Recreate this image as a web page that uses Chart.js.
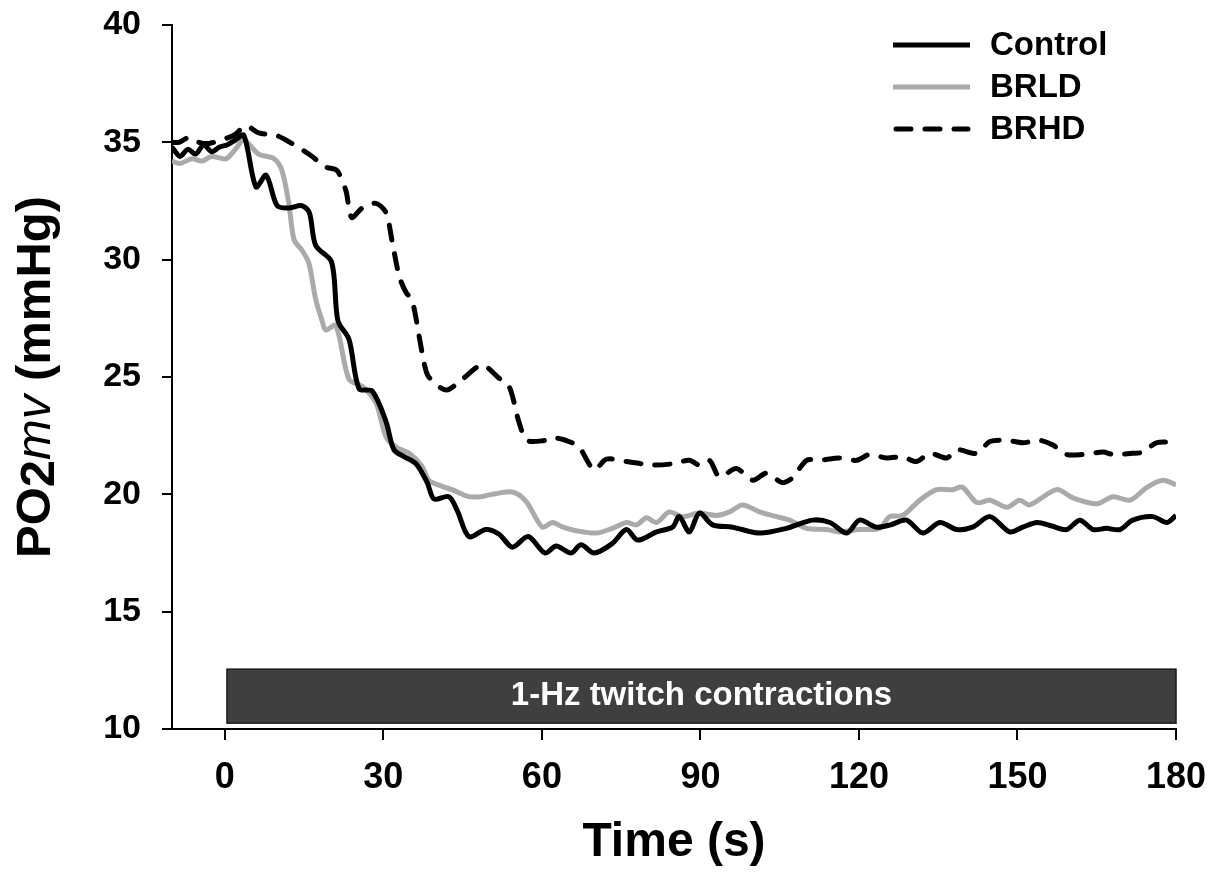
<!DOCTYPE html>
<html>
<head>
<meta charset="utf-8">
<script src="https://cdn.jsdelivr.net/npm/chart.js@4.4.1/dist/chart.umd.min.js"></script>
<style>
  html, body { margin: 0; padding: 0; background: #fff; }
  canvas { display: block; }
</style>
</head>
<body>
<canvas id="myChart" width="1224" height="886"></canvas>
<script>
// time (s) and PO2mv (mmHg)
const controlTime = [-10, -8.5, -7, -5.5, -4, -2.5, -1, 0.5, 2, 3.6, 5.9, 7.8, 9.9, 12, 14.6, 16, 17.2, 20.2, 21.4, 23.5, 25.4, 27.9, 30.5, 32, 34, 36.2, 38.3, 39.6, 42.4, 44, 46.2, 49.4, 51.9, 54.4, 57.4, 60.6, 62.7, 65.5, 67.4, 69.9, 73.3, 76, 78.1, 81.7, 84.7, 86, 87.9, 89.8, 92.3, 96.1, 101.2, 106.3, 111.2, 114.5, 117.7, 120.1, 123.3, 126, 129, 132.1, 135.3, 138.5, 141.5, 144.8, 148.5, 151, 153.7, 156.5, 159.3, 161.8, 164.3, 166.8, 169.4, 171.8, 175.6, 178.3, 180];
const controlValues = [34.8, 34.4, 34.7, 34.5, 34.9, 34.6, 34.8, 34.9, 35.1, 35.3, 33.1, 33.6, 32.3, 32.2, 32.3, 32.0, 30.6, 29.9, 27.4, 26.6, 24.5, 24.4, 23.1, 21.9, 21.6, 21.3, 20.5, 19.8, 19.9, 19.3, 18.2, 18.5, 18.3, 17.75, 18.2, 17.5, 17.8, 17.5, 17.85, 17.5, 17.9, 18.5, 18.05, 18.4, 18.6, 19.05, 18.4, 19.2, 18.7, 18.6, 18.35, 18.55, 18.9, 18.8, 18.35, 18.9, 18.6, 18.7, 18.9, 18.35, 18.8, 18.5, 18.6, 19.05, 18.4, 18.6, 18.8, 18.65, 18.5, 18.9, 18.5, 18.55, 18.5, 18.9, 19.05, 18.8, 19.1];

const brldTime = [-10, -8.5, -6.2, -4.4, -2.5, 0.2, 2, 3.6, 6.4, 9.3, 10.8, 12.1, 13.1, 14.6, 15.9, 17.2, 18.4, 19.1, 21, 23.5, 26, 28.6, 30.5, 32.5, 34.9, 37.3, 38.6, 41, 43, 46.2, 48.5, 50.6, 54.4, 57, 60.1, 62, 64, 66.5, 70.3, 73.3, 76, 77.9, 79.8, 81.7, 84.1, 86.6, 89.8, 93, 95.5, 98, 101.2, 104.4, 106.9, 110.1, 113.9, 116.3, 120.1, 123.9, 125.8, 128.3, 131.5, 134.7, 137.7, 139.6, 142.3, 144.8, 148, 150.4, 152.3, 157.4, 160.5, 165, 168.1, 171.3, 174.5, 177.5, 180];
const brldValues = [34.2, 34.1, 34.3, 34.2, 34.4, 34.3, 34.7, 35.1, 34.5, 34.3, 33.8, 32.4, 30.85, 30.4, 29.85, 28.3, 27.4, 27.0, 27.2, 24.9, 24.6, 23.9, 22.45, 22.0, 21.75, 21.2, 20.6, 20.35, 20.2, 19.9, 19.9, 20.0, 20.1, 19.7, 18.6, 18.8, 18.6, 18.45, 18.35, 18.55, 18.8, 18.7, 19.0, 18.8, 19.25, 19.05, 19.2, 19.1, 19.25, 19.55, 19.25, 19.05, 18.9, 18.55, 18.5, 18.4, 18.5, 18.55, 19.05, 19.1, 19.75, 20.2, 20.2, 20.3, 19.65, 19.75, 19.45, 19.75, 19.55, 20.2, 19.85, 19.6, 19.9, 19.75, 20.3, 20.6, 20.4];

const brhdTime = [-10, -8.7, -6.8, -4.9, -3, -0.8, 1.7, 4, 6.4, 9.7, 12.7, 15.9, 19.1, 21.2, 22.9, 24, 26, 28.6, 30.5, 31.6, 33, 34.3, 35.4, 36.8, 37.7, 38.6, 41.9, 44.9, 48.7, 51.9, 53.8, 55.7, 57.2, 60.8, 62.7, 65.7, 67.1, 69.9, 72.2, 76, 80.9, 84.7, 87.9, 89.8, 91.7, 93.6, 96.8, 99.9, 102.5, 105.5, 107.4, 110.1, 112.5, 116.3, 119.6, 122, 125.2, 128.3, 130.9, 133.4, 136.6, 138.5, 142.3, 144.8, 148, 151, 154.2, 156.7, 159.3, 162.4, 166.2, 168.1, 171.8, 173.7, 176.4, 180];
const brhdValues = [35.0, 35.0, 35.2, 35.0, 34.95, 35.1, 35.3, 35.7, 35.4, 35.3, 34.95, 34.5, 33.95, 33.8, 32.95, 31.8, 32.2, 32.4, 32.0, 30.85, 29.3, 28.6, 28.3, 26.7, 25.6, 25.0, 24.45, 24.9, 25.5, 24.95, 24.6, 23.05, 22.3, 22.3, 22.4, 22.2, 22.0, 21.05, 21.5, 21.4, 21.25, 21.3, 21.45, 21.25, 21.45, 20.75, 21.1, 20.6, 20.9, 20.5, 20.7, 21.45, 21.45, 21.55, 21.45, 21.7, 21.55, 21.6, 21.4, 21.75, 21.55, 21.9, 21.75, 22.25, 22.3, 22.2, 22.3, 22.1, 21.7, 21.7, 21.8, 21.7, 21.75, 21.8, 22.2, 22.2];

const xTicks = [0, 30, 60, 90, 120, 150, 180];
const yTicks = [10, 15, 20, 25, 30, 35, 40];

// stimulation period box (time span and PO2 span it covers)
const stimStart = 0.4;
const stimEnd = 180;
const stimTop = 12.55;
const stimBottom = 10.25;
const stimLabel = '1-Hz twitch contractions';

const FONT = "'Liberation Sans', Arial, Helvetica, sans-serif";

const toPoints = (xs, ys) => xs.map((x, i) => ({ x: x, y: ys[i] }));

const stimBox = {
    id: 'stimBox',
    beforeDatasetsDraw(chart) {
        const { ctx, scales: { x, y } } = chart;
        const left = x.getPixelForValue(stimStart);
        const right = x.getPixelForValue(stimEnd);
        const top = y.getPixelForValue(stimTop);
        const bottom = y.getPixelForValue(stimBottom);
        ctx.save();
        ctx.fillStyle = '#3f3f3f';
        ctx.strokeStyle = '#1a1a1a';
        ctx.lineWidth = 1.5;
        ctx.fillRect(left, top, right - left, bottom - top);
        ctx.strokeRect(left, top, right - left, bottom - top);
        ctx.fillStyle = '#ffffff';
        ctx.font = 'bold 33px ' + FONT;
        ctx.textAlign = 'center';
        ctx.textBaseline = 'middle';
        ctx.fillText(stimLabel, (left + right) / 2, (top + bottom) / 2);
        ctx.restore();
    }
};

const legendAndTitle = {
    id: 'legendAndTitle',
    afterDraw(chart) {
        const ctx = chart.ctx;
        ctx.save();

        // legend
        chart.data.datasets.forEach((ds, i) => {
            const yy = 45 + i * 42;
            const dashed = ds.borderDash.length > 0;
            ctx.beginPath();
            ctx.strokeStyle = ds.borderColor;
            ctx.lineWidth = 5;
            ctx.lineCap = dashed ? 'round' : 'butt';
            ctx.setLineDash(ds.borderDash);
            ctx.moveTo(dashed ? 896 : 893, yy);
            ctx.lineTo(dashed ? 968 : 970, yy);
            ctx.stroke();
            ctx.setLineDash([]);
            ctx.fillStyle = '#000';
            ctx.font = 'bold 33px ' + FONT;
            ctx.textAlign = 'left';
            ctx.textBaseline = 'middle';
            ctx.fillText(ds.label, 990, yy + 1);
        });

        // y axis title: PO2mv (mmHg)
        const parts = [
            { t: 'PO', f: 'bold 49px ' + FONT, dy: 0 },
            { t: '2', f: 'bold 49px ' + FONT, dy: 4 },
            { t: 'mv', f: 'italic 49px ' + FONT, dy: 0 },
            { t: ' (mmHg)', f: 'bold 49px ' + FONT, dy: 0 }
        ];
        let total = 0;
        parts.forEach(p => { ctx.font = p.f; p.w = ctx.measureText(p.t).width; total += p.w; });
        ctx.translate(36, 377);
        ctx.rotate(-Math.PI / 2);
        ctx.textAlign = 'left';
        ctx.textBaseline = 'middle';
        ctx.fillStyle = '#000';
        let cx = -total / 2;
        parts.forEach(p => {
            ctx.font = p.f;
            ctx.fillText(p.t, cx, p.dy);
            cx += p.w;
        });
        ctx.restore();
    }
};

const commonLine = {
    borderWidth: 5,
    pointRadius: 0,
    tension: 0.3,
    fill: false,
    borderJoinStyle: 'round'
};

const config = {
    type: 'line',
    data: {
        datasets: [
            { ...commonLine, label: 'Control', data: toPoints(controlTime, controlValues), borderColor: '#000000', borderDash: [], order: 2 },
            { ...commonLine, label: 'BRLD', data: toPoints(brldTime, brldValues), borderColor: '#aaaaaa', borderDash: [], order: 3 },
            { ...commonLine, label: 'BRHD', data: toPoints(brhdTime, brhdValues), borderColor: '#000000', borderDash: [15, 14], borderCapStyle: 'round', order: 1 }
        ]
    },
    options: {
        responsive: false,
        animation: false,
        layout: { padding: { left: 0, top: 25, right: 48, bottom: 0 } },
        plugins: {
            legend: { display: false },
            tooltip: { enabled: false }
        },
        scales: {
            x: {
                type: 'linear',
                min: -10,
                max: 180,
                afterFit: (scale) => {
                    scale.height = 157;
                    scale.paddingLeft = 0;
                    scale.paddingRight = 0;
                },
                afterBuildTicks: (scale) => { scale.ticks = xTicks.map(v => ({ value: v })); },
                grid: { drawOnChartArea: false, drawTicks: true, tickLength: 11, color: '#000', lineWidth: 2 },
                border: { display: true, color: '#000', width: 2 },
                ticks: { color: '#000', font: { family: FONT, size: 36, weight: 'bold' }, padding: 16, maxRotation: 0 },
                title: { display: true, text: 'Time (s)', color: '#000', font: { family: FONT, size: 48, weight: 'bold' }, padding: { top: 0, bottom: 14 } }
            },
            y: {
                min: 10,
                max: 40,
                afterFit: (scale) => {
                    scale.width = 172;
                    scale.paddingTop = 0;
                    scale.paddingBottom = 0;
                },
                afterBuildTicks: (scale) => { scale.ticks = yTicks.map(v => ({ value: v })); },
                grid: { drawOnChartArea: false, drawTicks: true, tickLength: 10, color: '#000', lineWidth: 2 },
                border: { display: true, color: '#000', width: 2 },
                ticks: { color: '#000', font: { family: FONT, size: 34, weight: 'bold' }, padding: 21 }
            }
        }
    },
    plugins: [stimBox, legendAndTitle]
};

const myChart = new Chart(document.getElementById('myChart'), config);
</script>
</body>
</html>
